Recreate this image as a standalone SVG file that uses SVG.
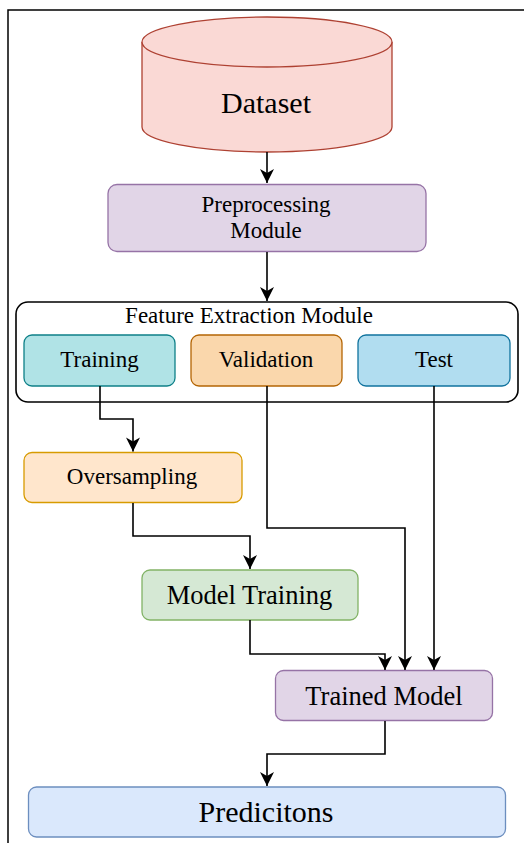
<svg xmlns="http://www.w3.org/2000/svg" width="524" height="843" viewBox="0 0 524 843">
<style>
text{font-family:"Liberation Serif","Times New Roman",serif;fill:#000;text-anchor:middle}
.n{stroke-width:1.3}
.c{fill:none;stroke:#000;stroke-width:1.6}
.t23{font-size:23px}.t26{font-size:26.5px}.t30{font-size:30px}
</style>
<defs>
<marker id="ah" markerUnits="userSpaceOnUse" markerWidth="16" markerHeight="16" viewBox="-15 -8 16 16" refX="0" refY="0" orient="auto">
<path d="M0,0 L-14,-7 L-10,0 L-14,7 Z" fill="#000"/>
</marker>
</defs>
<rect width="524" height="843" fill="#fff"/>
<path d="M8,843 V10 H524" fill="none" stroke="#000" stroke-width="1.5"/>
<g id="dataset">
<path class="n" d="M142,42 V127 A125,25 0 0 0 392,127 V42" fill="#fad9d5" stroke="#ae4132"/>
<ellipse class="n" cx="267" cy="42" rx="125" ry="25" fill="#fad9d5" stroke="#ae4132"/>
<text class="t30" x="266" y="113">Dataset</text>
</g>
<g id="preprocessing">
<rect class="n" x="108" y="184.5" width="318" height="67" rx="9" fill="#e1d5e7" stroke="#9673a6"/>
<text class="t23" x="266" y="211.5">Preprocessing</text>
<text class="t23" x="266" y="238">Module</text>
</g>
<g id="feature-extraction">
<rect x="16" y="302" width="502" height="100" rx="12" fill="#fff" stroke="#000" stroke-width="1.6"/>
<text class="t23" x="249" y="322.5">Feature Extraction Module</text>
</g>
<g id="training">
<rect class="n" x="24" y="335" width="151" height="51" rx="8" fill="#b0e3e6" stroke="#0e8088"/>
<text class="t23" x="99.5" y="366.5">Training</text>
</g>
<g id="validation">
<rect class="n" x="191" y="335" width="151" height="51" rx="8" fill="#fad7ac" stroke="#b46504"/>
<text class="t23" x="266" y="366.5">Validation</text>
</g>
<g id="test">
<rect class="n" x="358" y="335" width="152" height="51" rx="8" fill="#b1ddf0" stroke="#10739e"/>
<text class="t23" x="434" y="366.5">Test</text>
</g>
<g id="oversampling">
<rect class="n" x="24" y="452.5" width="218" height="50" rx="8" fill="#ffe6cc" stroke="#d79b00"/>
<text class="t23" x="132" y="483.5">Oversampling</text>
</g>
<g id="model-training">
<rect class="n" x="142" y="570" width="216" height="50" rx="8" fill="#d5e8d4" stroke="#82b366"/>
<text class="t26" x="249.5" y="603.5">Model Training</text>
</g>
<g id="trained-model">
<rect class="n" x="275.5" y="670.5" width="217" height="50" rx="8" fill="#e1d5e7" stroke="#9673a6"/>
<text class="t26" x="384" y="705">Trained Model</text>
</g>
<g id="predictions">
<rect class="n" x="28.5" y="787" width="477" height="50" rx="8" fill="#dae8fc" stroke="#6c8ebf"/>
<text class="t30" x="266" y="821.5">Predicitons</text>
</g>
<g id="connectors">
<path class="c" d="M267,152 V183" marker-end="url(#ah)"/>
<path class="c" d="M267,252 V301" marker-end="url(#ah)"/>
<path class="c" d="M100,386 V419 H133 V451.5" marker-end="url(#ah)"/>
<path class="c" d="M133,503 V536 H250 V569" marker-end="url(#ah)"/>
<path class="c" d="M267,386 V528 H405 V670" marker-end="url(#ah)"/>
<path class="c" d="M434,386 V670" marker-end="url(#ah)"/>
<path class="c" d="M250,620 V654 H385 V670" marker-end="url(#ah)"/>
<path class="c" d="M385,721 V754 H267 V786" marker-end="url(#ah)"/>
</g>
</svg>
